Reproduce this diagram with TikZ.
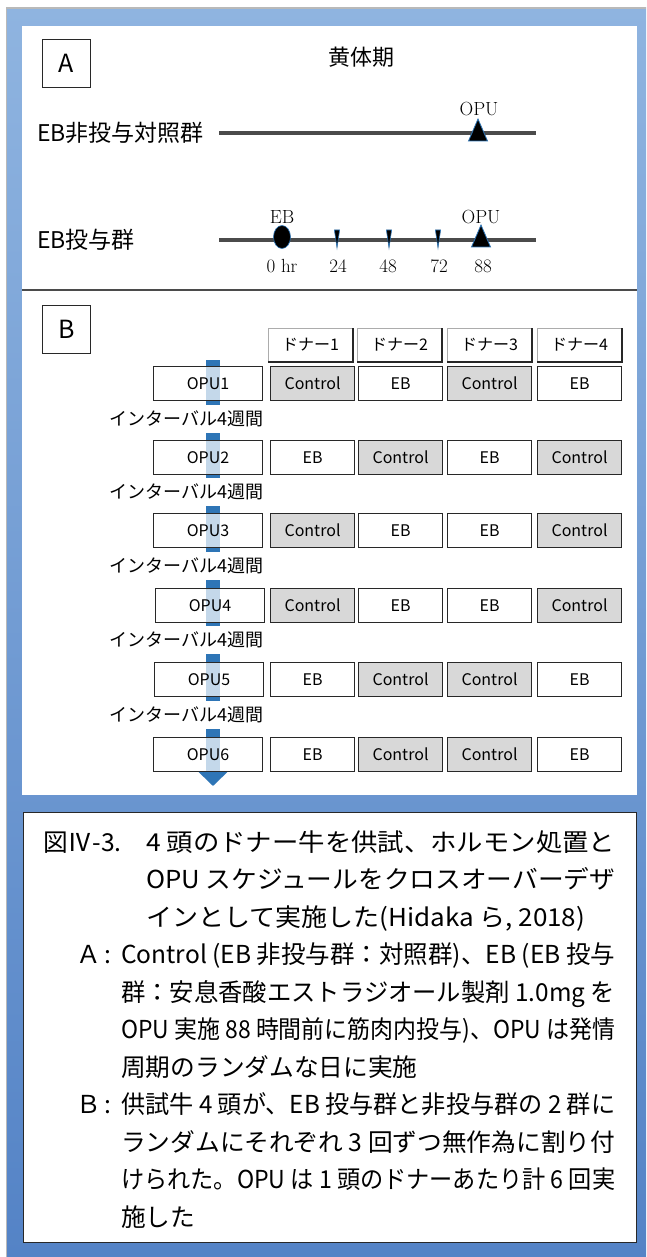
\documentclass[tikz,border=0pt]{standalone}
\usepackage{fontspec}
\usepackage{graphicx}
\newfontfamily\jp{Noto Sans CJK JP}
\usetikzlibrary{shapes.geometric,arrows.meta}
\definecolor{frameTop}{RGB}{143,180,224}
\definecolor{frameBot}{RGB}{84,131,198}
\definecolor{ctrlgray}{RGB}{216,216,216}
\definecolor{banddark}{RGB}{46,117,182}
\definecolor{linegray}{RGB}{75,75,75}
\definecolor{boxedge}{RGB}{40,40,40}
\newcommand{\fsz}[1]{\fontsize{#1}{#1}\selectfont}
\newcommand{\capw}[2]{\resizebox{#1pt}{\height}{#2}}
\tikzset{
  cellbox/.style={draw=boxedge, line width=1.1pt, minimum width=84pt, minimum height=34pt, inner sep=0pt, anchor=north west, font=\jp\fsz{16}},
  ctrlbox/.style={cellbox, fill=ctrlgray},
  ebbox/.style={cellbox, fill=white},
  headbox/.style={cellbox, draw=gray!65, fill=white, minimum height=33pt},
  headshadow/.style={draw=boxedge, line width=1.6pt},
  opubox/.style={cellbox, minimum width=109pt, fill=white, fill opacity=0.72, text opacity=1},
  intlabel/.style={anchor=west, fill=white, inner xsep=0pt, inner ysep=0pt, minimum height=28pt, font=\jp\fsz{18}},
  grouplabel/.style={anchor=west, inner sep=0pt, font=\jp\fsz{23}},
  letterbox/.style={draw=boxedge, line width=0.9pt, minimum width=48pt, minimum height=48pt, anchor=north west, inner sep=0pt, font=\jp\fsz{25}},
  timeline/.style={draw=linegray, line width=4pt},
  tlabel/.style={inner sep=0pt, font=\fsz{19}},
  capline/.style={anchor=base west, inner sep=0pt, font=\jp\fsz{24.7}},
  opumark/.pic={\filldraw[fill=black, draw=banddark, line width=0.8pt] (0,-11) -- (9.5,11) -- (-9.5,11) -- cycle;},
  tickmark/.pic={\filldraw[fill=black, draw=banddark, line width=0.6pt] (-2.6,-10) -- (2.6,-10) -- (0,8) -- cycle;},
}
\begin{document}
\begin{tikzpicture}[x=1pt,y=-1pt]
\useasboundingbox (0,0) rectangle (646,1257);
\fill[white] (0,0) rectangle (646,1257);
\shade[top color=frameTop, bottom color=frameBot] (7,8) rectangle (646,1257);
\draw[gray!55, line width=1.5pt] (6.5,1257) -- (6.5,8) -- (646,8);
% panels
\fill[white] (22,26) rectangle (637,795);
\draw[linegray, line width=2pt] (22,290) -- (637,290);

% ---------- Panel A ----------
\node[letterbox] (boxA) at (42,39) {A};
\node[font=\jp\fsz{22}, inner sep=0pt] (luteal) at (361,57) {黄体期};
\node[grouplabel] (grpC) at (37,133) {EB非投与対照群};
\coordinate (lineCs) at (219,133);
\coordinate (lineCe) at (536,133);
\draw[timeline] (lineCs) -- (lineCe);
\pic at (478,130) {opumark};
\node[tlabel] (opuC) at (479,109) {OPU};

\node[grouplabel] (grpE) at (37,240) {EB投与群};
\coordinate (lineEs) at (219,240);
\coordinate (lineEe) at (536,240);
\draw[timeline] (lineEs) -- (lineEe);
\node[ellipse, fill=black, draw=banddark, line width=0.6pt, minimum width=17pt, minimum height=23pt, inner sep=0pt] (ebdot) at (282,237) {};
\pic at (337,240) {tickmark};
\pic at (389,240) {tickmark};
\pic at (438,240) {tickmark};
\pic at (481,236) {opumark};
\node[tlabel] (ebl) at (282,217) {EB};
\node[tlabel] (opuE) at (481,217) {OPU};
\node[tlabel] (t0) at (282,266) {0 hr};
\node[tlabel] (t24) at (338,266) {24};
\node[tlabel] (t48) at (388,266) {48};
\node[tlabel] (t72) at (439,266) {72};
\node[tlabel] (t88) at (483,266) {88};

% ---------- Panel B ----------
\node[letterbox] (boxB) at (42,305) {B};
\node[headbox] (d1) at (268,328) {ドナー1};
\node[headbox] (d2) at (357,328) {ドナー2};
\node[headbox] (d3) at (447,328) {ドナー3};
\node[headbox] (d4) at (537,328) {ドナー4};
\foreach \d in {d1,d2,d3,d4}
  \draw[headshadow] (\d.south west) -- (\d.south east) -- (\d.north east);

\coordinate (arrtop) at (213,360);
\coordinate (arrend) at (213,786);
\draw[banddark, line width=14pt, -{Triangle[width=30pt,length=15pt]}] (arrtop) -- (arrend);

% row 1
\node[opubox] (o1) at (153,366) {OPU1};
\node[ctrlbox] (r1a) at (270,366) {Control};
\node[ebbox] (r1b) at (358,366) {EB};
\node[ctrlbox] (r1c) at (447,366) {Control};
\node[ebbox] (r1d) at (537,366) {EB};
\node[intlabel] (i1) at (109,419) {インターバル4週間};
% row 2
\node[opubox] (o2) at (153,440) {OPU2};
\node[ebbox] (r2a) at (270,440) {EB};
\node[ctrlbox] (r2b) at (358,440) {Control};
\node[ebbox] (r2c) at (447,440) {EB};
\node[ctrlbox] (r2d) at (537,440) {Control};
\node[intlabel] (i2) at (109,492) {インターバル4週間};
% row 3
\node[opubox] (o3) at (153,513) {OPU3};
\node[ctrlbox] (r3a) at (270,513) {Control};
\node[ebbox] (r3b) at (358,513) {EB};
\node[ebbox] (r3c) at (447,513) {EB};
\node[ctrlbox] (r3d) at (537,513) {Control};
\node[intlabel] (i3) at (109,566) {インターバル4週間};
% row 4
\node[opubox] (o4) at (155,588) {OPU4};
\node[ctrlbox] (r4a) at (270,588) {Control};
\node[ebbox] (r4b) at (358,588) {EB};
\node[ebbox] (r4c) at (447,588) {EB};
\node[ctrlbox] (r4d) at (537,588) {Control};
\node[intlabel] (i4) at (109,640) {インターバル4週間};
% row 5
\node[opubox] (o5) at (154,662) {OPU5};
\node[ebbox] (r5a) at (270,662) {EB};
\node[ctrlbox] (r5b) at (358,662) {Control};
\node[ctrlbox] (r5c) at (447,662) {Control};
\node[ebbox] (r5d) at (537,662) {EB};
\node[intlabel] (i5) at (109,715) {インターバル4週間};
% row 6
\node[opubox] (o6) at (153,737) {OPU6};
\node[ebbox] (r6a) at (270,737) {EB};
\node[ctrlbox] (r6b) at (358,737) {Control};
\node[ctrlbox] (r6c) at (447,737) {Control};
\node[ebbox] (r6d) at (537,737) {EB};

% ---------- Caption ----------
\draw[boxedge, line width=1pt, fill=white] (23,812) rectangle (636,1242);
\node[capline] (c0) at (43,851) {図Ⅳ-3.};
\node[capline] (c1) at (146,851) {\capw{469}{4 頭のドナー牛を供試、ホルモン処置と}};
\node[capline] (c2) at (146,888.5) {\capw{469}{OPU スケジュールをクロスオーバーデザ}};
\node[capline] (c3) at (146,926) {\capw{439}{インとして実施した(Hidaka ら, 2018)}};
\node[capline] (cA) at (76,963.5) {Ａ\hspace{4pt}:};
\node[capline] (c4) at (121,963.5) {\capw{494}{Control (EB 非投与群：対照群)、EB (EB 投与}};
\node[capline] (c5) at (121,1001) {\capw{494}{群：安息香酸エストラジオール製剤 1.0mg を}};
\node[capline] (c6) at (121,1038.5) {\capw{494}{OPU 実施 88 時間前に筋肉内投与)、OPU は発情}};
\node[capline] (c7) at (121,1076) {周期のランダムな日に実施};
\node[capline] (cB) at (76,1113.5) {Ｂ\hspace{4pt}:};
\node[capline] (c8) at (121,1113.5) {\capw{494}{供試牛 4 頭が、EB 投与群と非投与群の 2 群に}};
\node[capline] (c9) at (121,1151) {\capw{494}{ランダムにそれぞれ 3 回ずつ無作為に割り付}};
\node[capline] (c10) at (121,1188.5) {\capw{494}{けられた。OPU は 1 頭のドナーあたり計 6 回実}};
\node[capline] (c11) at (121,1226) {施した};
\end{tikzpicture}
\end{document}
